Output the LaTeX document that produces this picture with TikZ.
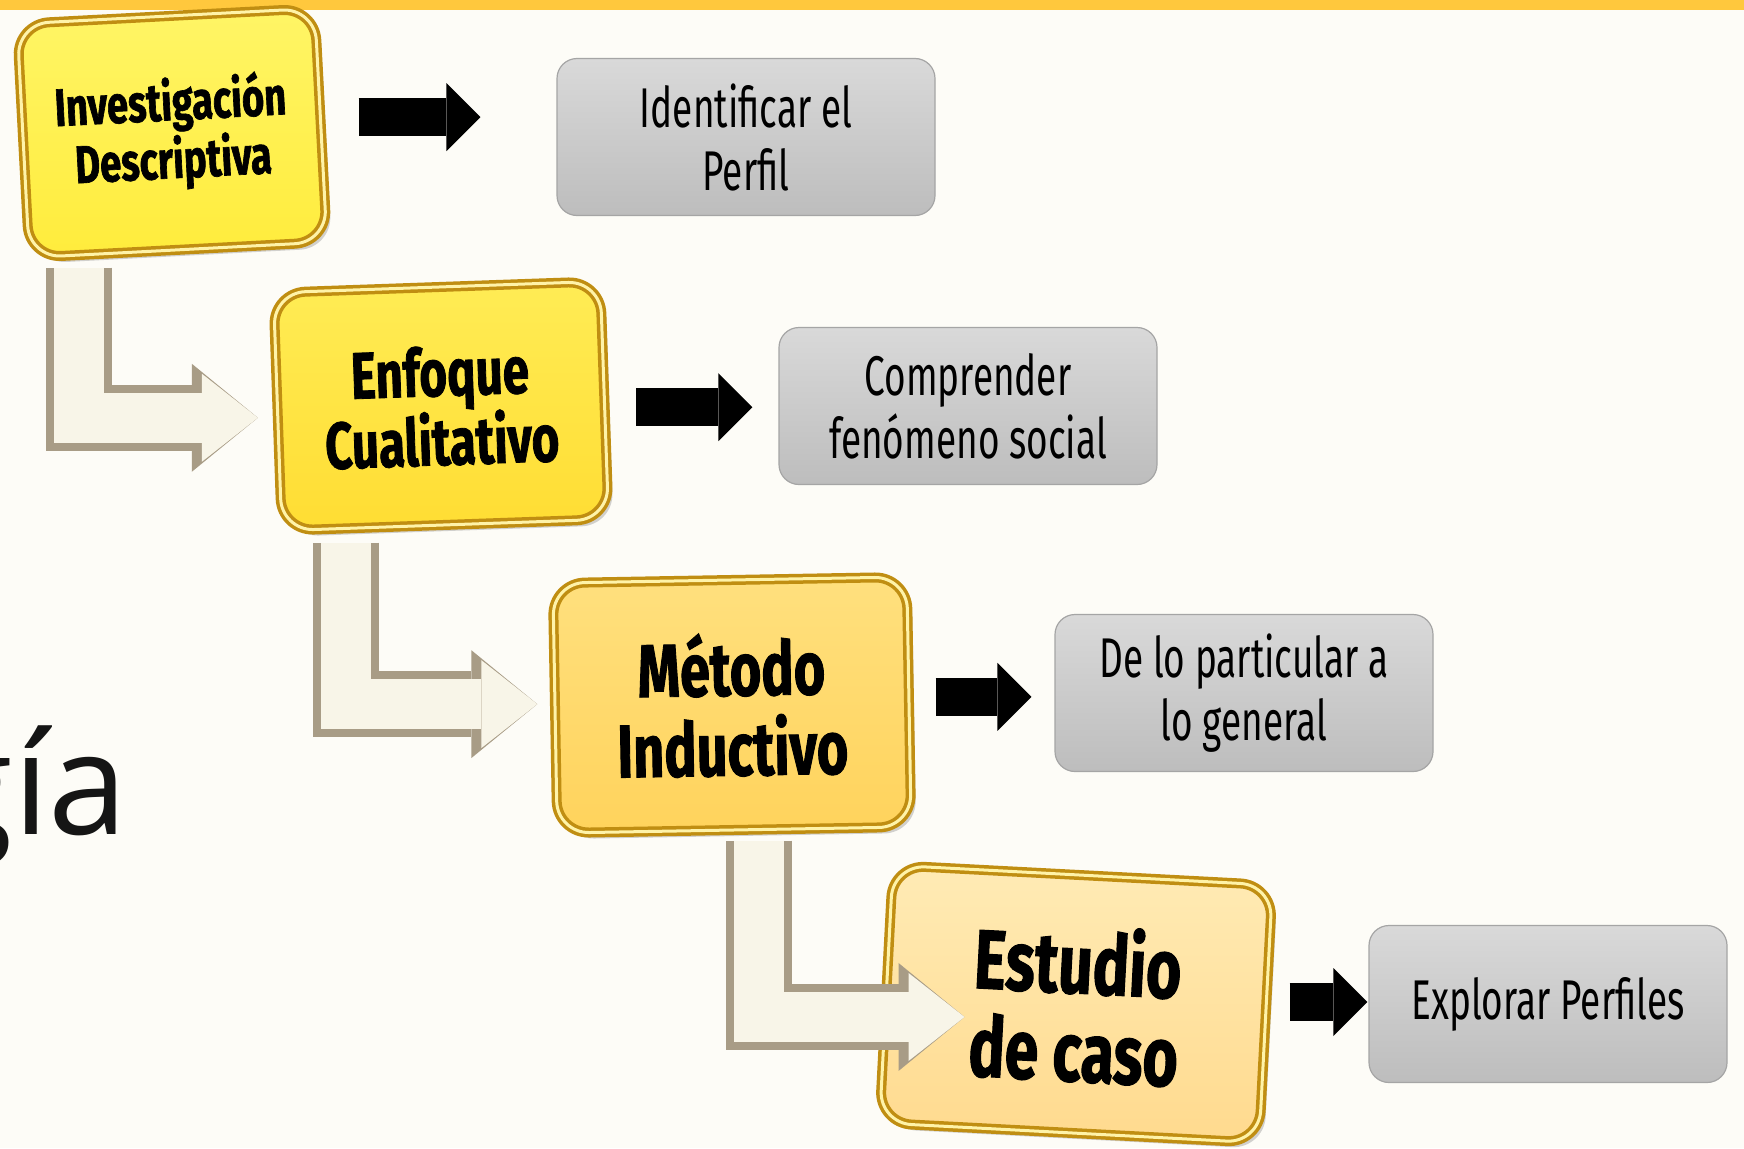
\documentclass[tikz,border=0pt]{standalone}
\usepackage{fontspec}
\usepackage{tikz}
\usetikzlibrary{positioning,arrows.meta,shadows}
\newfontfamily\stagefont{Fira Sans}[FakeStretch=0.72, BoldFeatures={FakeBold=1.2}]
\newfontfamily\aimfont{Fira Sans}[FakeStretch=0.66]
\newfontfamily\titlefont{Open Sans}
\definecolor{bgcream}{HTML}{FDFCF7}
\definecolor{topbar}{HTML}{FFC83D}
\definecolor{goldedge}{HTML}{C08E12}
\definecolor{goldlight}{HTML}{FFF3A8}
\definecolor{yelA}{HTML}{FFF566}
\definecolor{yelAb}{HTML}{FFEC3C}
\definecolor{yelB}{HTML}{FFEC55}
\definecolor{yelBb}{HTML}{FFDD33}
\definecolor{yelC}{HTML}{FFE07E}
\definecolor{yelCb}{HTML}{FFD35C}
\definecolor{yelD}{HTML}{FFEBB5}
\definecolor{yelDb}{HTML}{FFDA8E}
\definecolor{greytop}{HTML}{D9D9D9}
\definecolor{greybot}{HTML}{BDBDBD}
\definecolor{greyedge}{HTML}{A5A5A5}
\definecolor{creamarrow}{HTML}{F8F5E8}
\definecolor{creamedge}{HTML}{A89C86}
\definecolor{titleink}{HTML}{151515}

\begin{document}
\begin{tikzpicture}[ x=1pt , y=-1pt , on grid ,
 stage/.style={ rounded corners=32pt , draw=goldedge , line width=3.5pt , double=goldlight , double distance=3pt , align=center , inner sep=0pt , drop shadow={shadow xshift=5pt , shadow yshift=-6pt , opacity=0.35} },
 aim/.style={ rounded corners=20pt , draw=greyedge , line width=1.2pt , top color=greytop , bottom color=greybot , minimum width=378pt , minimum height=157pt , align=center , inner sep=0pt , font=\aimfont\fontsize{56}{63}\selectfont },
 blockarrow/.style={ draw=black , line width=38pt , -{Triangle[length=34pt , width=68pt , line width=0pt]} },
 bendarrow/.style={ draw=creamarrow , line width=50pt , -{Triangle[length=56pt , width=88pt , line width=0pt]} ,
  preaction={ draw=creamedge , line width=66pt , -{Triangle[length=66pt , width=108pt , line width=0pt]} } } ]
\useasboundingbox (0,0) rectangle (1744,1148);
\clip (0,0) rectangle (1744,1148);
\fill [ bgcream ] (0,0) rectangle (1744,1148);
\fill [ topbar ] (0,0) rectangle (1744,10);

\node [ anchor=base west , inner sep=0pt , text=titleink , font=\titlefont\fontsize{142}{142}\selectfont ] (title) at (-65,834) {gía};

\node [ stage , rotate=3 , minimum width=298pt , minimum height=234pt , top color=yelA , bottom color=yelAb , font=\stagefont\bfseries\fontsize{53}{58}\selectfont ] (stage_1) at (172,133) {Investigación\\Descriptiva};
\node [ stage , rotate=2 , minimum width=327pt , minimum height=238pt , top color=yelB , bottom color=yelBb , font=\stagefont\bfseries\fontsize{66}{68}\selectfont ] (stage_2) at (441,406) {Enfoque\\Cualitativo};
\node [ stage , rotate=1 , minimum width=354pt , minimum height=250pt , top color=yelC , bottom color=yelCb , font=\stagefont\bfseries\fontsize{75}{80}\selectfont ] (stage_3) at (732,705) {Método\\Inductivo};
\node [ stage , rotate=-3 , minimum width=380pt , minimum height=258pt , top color=yelD , bottom color=yelDb , font=\stagefont\bfseries\fontsize{84}{88}\selectfont ] (stage_4) at (1076,1004) {Estudio\\de caso};

\node [ aim , yshift=-4pt ] (aim_1) [ right=574pt of stage_1 ] {Identificar el\\Perfil};
\node [ aim ] (aim_2) [ right=527pt of stage_2 ] {Comprender\\fenómeno social};
\node [ aim , yshift=12pt ] (aim_3) [ right=512pt of stage_3 ] {De lo particular a\\lo general};
\node [ aim , minimum width=358pt ] (aim_4) [ right=472pt of stage_4 ] {Explorar Perfiles};

\draw [ blockarrow , shorten <=36pt , shorten >=76pt ] ([yshift=8pt]stage_1.east) -- ([yshift=8pt]stage_1.east -| aim_1.west);
\draw [ blockarrow , shorten <=30pt , shorten >=26pt ] ([yshift=-7pt]stage_2.east) -- ([yshift=-7pt]stage_2.east -| aim_2.west);
\draw [ blockarrow , shorten <=25pt , shorten >=23pt ] ([yshift=5pt]stage_3.east) -- ([yshift=5pt]stage_3.east -| aim_3.west);
\draw [ blockarrow , shorten <=22pt , shorten >=1pt ] ([yshift=12pt]stage_4.east) -- ([yshift=12pt]stage_4.east -| aim_4.west);

\draw [ bendarrow ] ([xshift=-99pt , yshift=-16pt]stage_1.south) |- ([xshift=-18pt , yshift=-6pt]stage_2.west);
\draw [ bendarrow ] ([xshift=-99pt , yshift=-16pt]stage_2.south) |- ([xshift=-16pt , yshift=4pt]stage_3.west);
\draw [ bendarrow ] ([xshift=25pt , yshift=-9pt]stage_3.south) |- ([xshift=80pt , yshift=-23pt]stage_4.west);
\end{tikzpicture}
\end{document}
